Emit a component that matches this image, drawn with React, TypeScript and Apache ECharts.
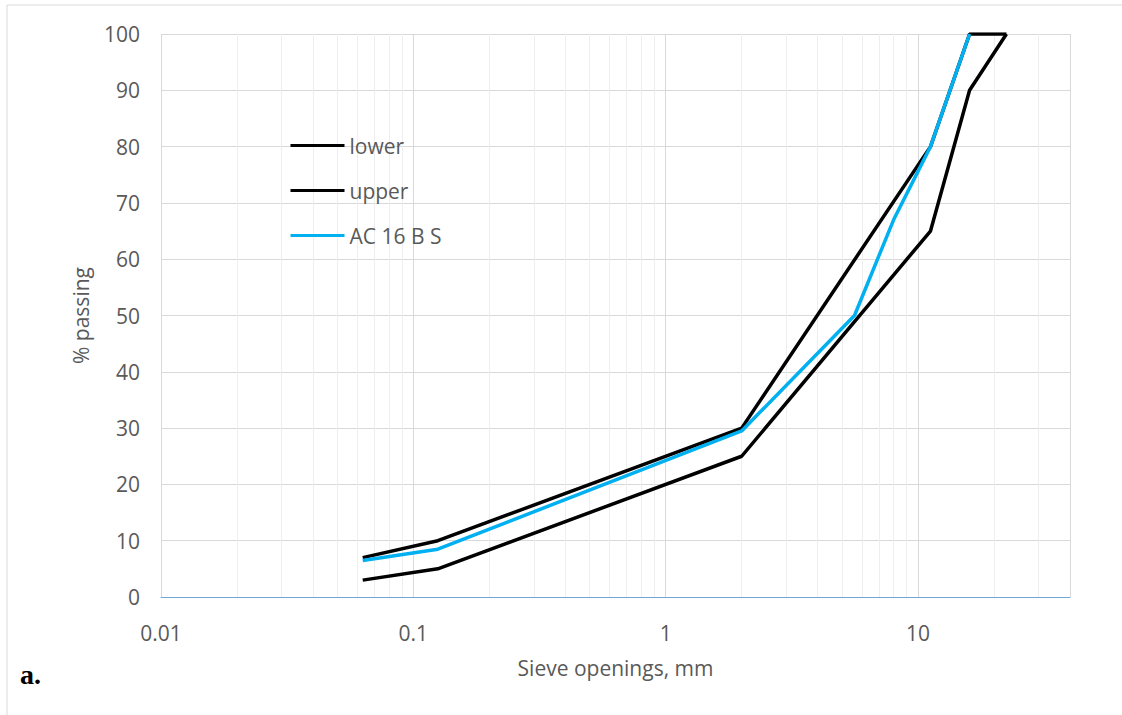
import React, { useEffect, useRef } from "react";
import * as echarts from "echarts";

const lowerSizes = [0.063, 0.125, 2, 11.2, 16, 22.4];
const lowerPassing = [3, 5, 25, 65, 90, 100];
const upperSizes = [0.063, 0.125, 2, 11.2, 16, 22.4];
const upperPassing = [7, 10, 30, 80, 100, 100];
const acSizes = [0.063, 0.125, 2, 5.6, 8, 11.2, 16];
const acPassing = [6.5, 8.5, 29.5, 50, 67, 80, 100];
const seriesNames = ["lower", "upper", "AC 16 B S"];
const majorTickLabels = ["0.01", "0.1", "1", "10"];

const FONT = "'Open Sans', 'Noto Sans', sans-serif";
const TXT = "#595959";
const FS = 21;
const LW = 3.5;

function pairs(xs: number[], ys: number[]) {
  return xs.map((x, i) => [x, ys[i]]);
}

export default function App() {
  const ref = useRef<HTMLDivElement>(null);
  useEffect(() => {
    document.body.style.margin = "0";
    const chart = echarts.init(ref.current!, null, { renderer: "svg" });
    const minor: number[] = [];
    [0.01, 0.1, 1, 10].forEach((d) => {
      for (let m = 2; m <= 9; m++) {
        const v = +(d * m).toPrecision(3);
        if (v < 40) minor.push(v);
      }
    });
    chart.setOption({
      animation: false,
      backgroundColor: "#ffffff",
      textStyle: { fontFamily: FONT },
      grid: { left: 161, right: 52, top: 34, bottom: 118 },
      legend: {
        orient: "vertical",
        left: 289,
        top: 135,
        padding: 0,
        z: 10,
        itemWidth: 54,
        itemHeight: 14,
        itemGap: 24,
        itemStyle: { opacity: 0 },
        lineStyle: { width: 3 },
        data: seriesNames,
        textStyle: { color: TXT, fontSize: FS, fontFamily: FONT },
      },
      xAxis: {
        type: "log",
        logBase: 10,
        min: 0.01,
        max: 40,
        name: "Sieve openings, mm",
        nameLocation: "middle",
        nameGap: 60,
        nameTextStyle: { color: TXT, fontSize: FS, fontFamily: FONT },
        axisLine: { show: true, lineStyle: { color: "#6fa6dc", width: 1 } },
        axisTick: { show: false },
        axisLabel: {
          color: TXT,
          fontSize: FS,
          fontFamily: FONT,
          margin: 25,
          formatter: (v: number) => {
            const s = majorTickLabels.find((t) => Math.abs(parseFloat(t) - v) < 1e-9);
            return s ?? "";
          },
        },
        splitLine: { show: true, lineStyle: { color: "#d9d9d9", width: 1 } },
      },
      yAxis: {
        type: "value",
        min: 0,
        max: 100,
        interval: 10,
        name: "% passing",
        nameLocation: "middle",
        nameGap: 70,
        nameTextStyle: { color: TXT, fontSize: FS, fontFamily: FONT },
        axisLine: { show: false },
        axisTick: { show: false },
        axisLabel: { color: TXT, fontSize: FS, fontFamily: FONT, margin: 21 },
        splitLine: { show: true, lineStyle: { color: "#d9d9d9", width: 1 } },
      },
      series: [
        {
          name: "_minorgrid",
          type: "line",
          data: [],
          silent: true,
          z: 0,
          markLine: {
            silent: true,
            z: 0,
            zlevel: 0,
            symbol: "none",
            label: { show: false },
            lineStyle: { color: "#eeeeee", width: 1, type: "solid" },
            data: minor.map((v) => ({ xAxis: v })),
          },
        },
        {
          name: seriesNames[0],
          type: "line",
          data: pairs(lowerSizes, lowerPassing),
          symbol: "none",
          lineStyle: { color: "#000000", width: LW },
          itemStyle: { color: "#000000" },
          z: 3,
        },
        {
          name: seriesNames[1],
          type: "line",
          data: pairs(upperSizes, upperPassing),
          symbol: "none",
          lineStyle: { color: "#000000", width: LW },
          itemStyle: { color: "#000000" },
          z: 4,
        },
        {
          name: seriesNames[2],
          type: "line",
          data: pairs(acSizes, acPassing),
          symbol: "none",
          lineStyle: { color: "#00b0f0", width: LW },
          itemStyle: { color: "#00b0f0" },
          z: 5,
        },
      ],
      graphic: [
        {
          type: "rect",
          shape: { x: 7, y: 5, width: 1200, height: 800 },
          style: { fill: "none", stroke: "#d9d9d9", lineWidth: 1 },
          silent: true,
          z: -1,
        },
        {
          type: "text",
          left: 20,
          top: 660,
          style: {
            text: "a.",
            font: "bold 28px 'Liberation Serif', 'DejaVu Serif', serif",
            fill: "#000000",
          },
        },
      ],
    });
    return () => chart.dispose();
  }, []);
  return (
    <div
      ref={ref}
      style={{ position: "absolute", left: 0, top: 0, width: 1122, height: 715 }}
    />
  );
}
